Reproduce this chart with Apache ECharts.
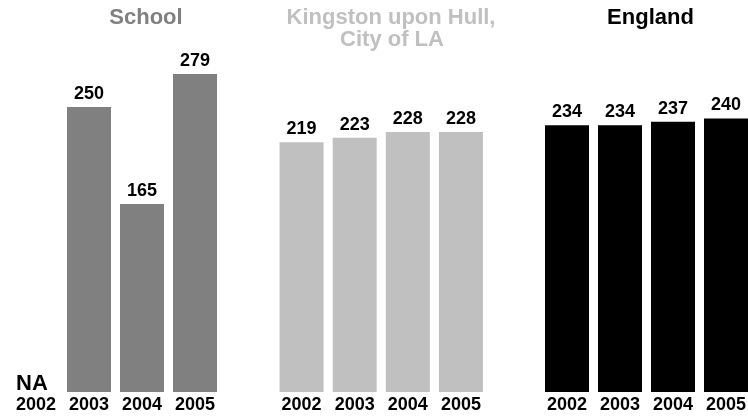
<!DOCTYPE html>
<html>
<head>
<meta charset="utf-8">
<script src="https://cdn.jsdelivr.net/npm/echarts@6/dist/echarts.min.js"></script>
<style>
  html, body { margin: 0; padding: 0; background: #fff; }
  #chart { width: 748px; height: 418px; }
</style>
</head>
<body>
<div id="chart"></div>
<script>
// panel data
var years = ['2002', '2003', '2004', '2005'];
var schoolValues = [null, 250, 165, 279];   // null = not available
var hullValues = [219, 223, 228, 228];
var englandValues = [234, 234, 237, 240];

var FONT = '"Liberation Sans", Arial, sans-serif';
var chart = echarts.init(document.getElementById('chart'));

// grids sit side by side, same vertical scale (last one runs off the right edge)
var grids = [
  { left: 9.5, width: 212, top: 50, bottom: 26, outerBoundsMode: 'none' },
  { left: 275, width: 212.5, top: 50, bottom: 26, outerBoundsMode: 'none' },
  { left: 540.5, width: 212, top: 50, bottom: 26, outerBoundsMode: 'none' }
];

function xAxisFor(i) {
  return {
    type: 'category', gridIndex: i, data: years,
    axisLine: { show: false }, axisTick: { show: false },
    axisLabel: { color: '#000', fontFamily: FONT, fontWeight: 'bold', fontSize: 18, margin: 4, interval: 0 }
  };
}
function yAxisFor(i) {
  return { type: 'value', gridIndex: i, min: 0, max: 300, show: false, splitLine: { show: false } };
}

function barSeries(i, values, color) {
  return {
    type: 'bar', xAxisIndex: i, yAxisIndex: i, barWidth: 44,
    itemStyle: { color: color },
    label: {
      show: true, position: 'top', distance: 4,
      color: '#000', fontFamily: FONT, fontWeight: 'bold', fontSize: 18
    },
    data: values.map(function (v) {
      if (v === null) {
        return { value: 0, label: { formatter: 'NA', fontSize: 22, offset: [-4, 7] } };
      }
      return v;
    })
  };
}

function titleText(x, y, text, color) {
  return {
    type: 'text', x: x, y: y,
    style: { text: text, fill: color, font: 'bold 22px ' + FONT, textAlign: 'center', textVerticalAlign: 'middle' }
  };
}

var option = {
  backgroundColor: '#fff',
  animation: false,
  grid: grids,
  xAxis: [xAxisFor(0), xAxisFor(1), xAxisFor(2)],
  yAxis: [yAxisFor(0), yAxisFor(1), yAxisFor(2)],
  series: [
    barSeries(0, schoolValues, '#808080'),
    barSeries(1, hullValues, '#c0c0c0'),
    barSeries(2, englandValues, '#000000')
  ],
  graphic: [
    titleText(146, 17.5, 'School', '#808080'),
    titleText(391, 18, 'Kingston upon Hull,', '#c0c0c0'),
    titleText(392, 40, 'City of LA', '#c0c0c0'),
    titleText(650.5, 17.5, 'England', '#000000')
  ]
};

chart.setOption(option);
</script>
</body>
</html>
